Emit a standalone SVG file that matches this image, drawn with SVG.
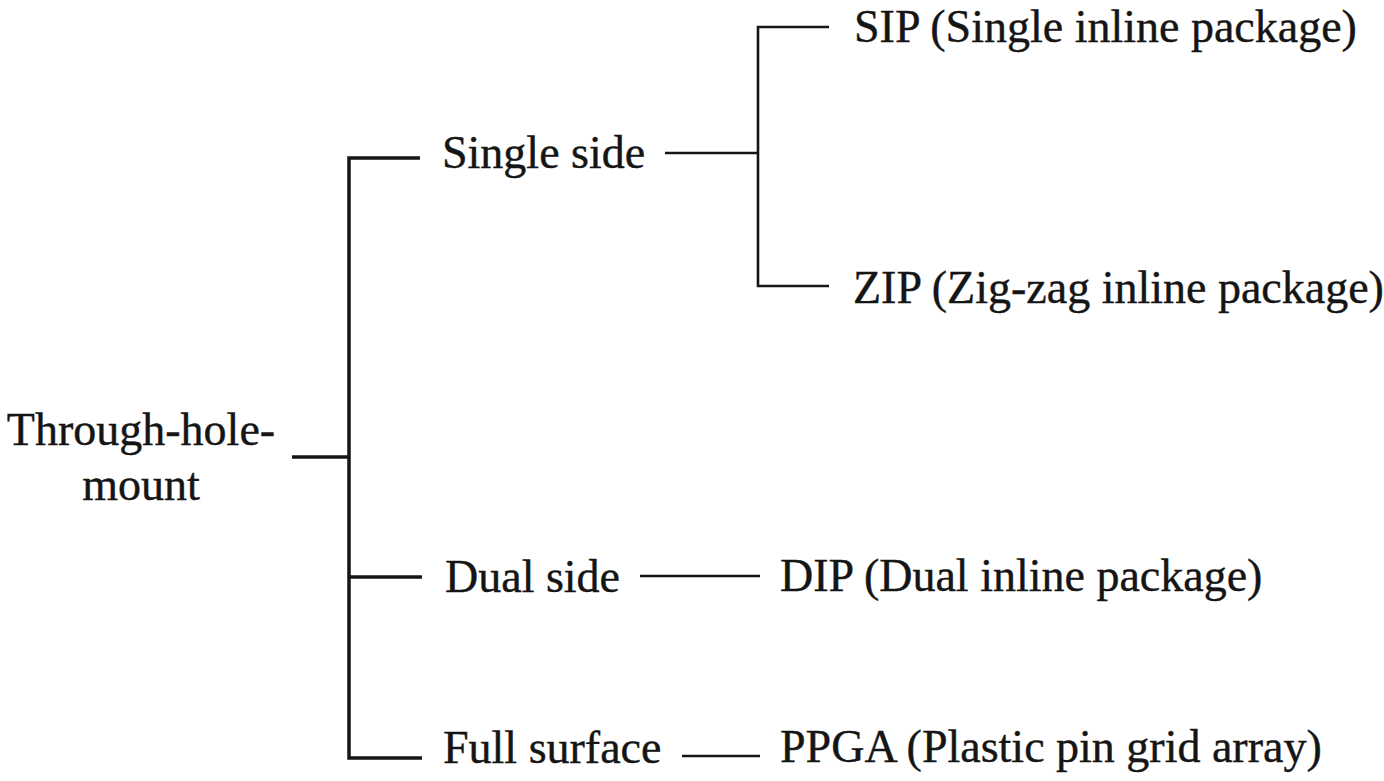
<svg xmlns="http://www.w3.org/2000/svg" width="1384" height="781" viewBox="0 0 1384 781">
<style>
  text { font-family: "Liberation Serif", "Times New Roman", serif; font-size: 46px; fill: #151515; stroke: #151515; stroke-width: 0.4; }
  .ln { stroke: #151515; stroke-width: 3.5; fill: none; stroke-linecap: butt; }
  .thin { stroke-width: 2.6; }
</style>
<rect width="1384" height="781" fill="#ffffff"/>
<g id="connectors">
  <path class="ln" d="M292,457 H349"/>
  <path class="ln" d="M420,158 H349 V758 H422"/>
  <path class="ln" d="M349,577 H422"/>
  <path class="ln thin" d="M665,153 H758"/>
  <path class="ln thin" d="M829,27 H758 V286 H829"/>
  <path class="ln thin" d="M640,576 H760"/>
  <path class="ln thin" d="M682,756 H760"/>
</g>
<g id="node-through-hole-mount">
  <text x="141" y="445" text-anchor="middle">Through-hole-</text>
  <text x="141" y="500" text-anchor="middle">mount</text>
</g>
<g id="node-single-side"><text x="442" y="168">Single side</text></g>
<g id="node-dual-side"><text x="445" y="592">Dual side</text></g>
<g id="node-full-surface"><text x="443" y="763">Full surface</text></g>
<g id="node-sip"><text x="854" y="42">SIP (Single inline package)</text></g>
<g id="node-zip"><text x="853" y="303">ZIP (Zig-zag inline package)</text></g>
<g id="node-dip"><text x="780" y="591">DIP (Dual inline package)</text></g>
<g id="node-ppga"><text x="780" y="762">PPGA (Plastic pin grid array)</text></g>
</svg>
